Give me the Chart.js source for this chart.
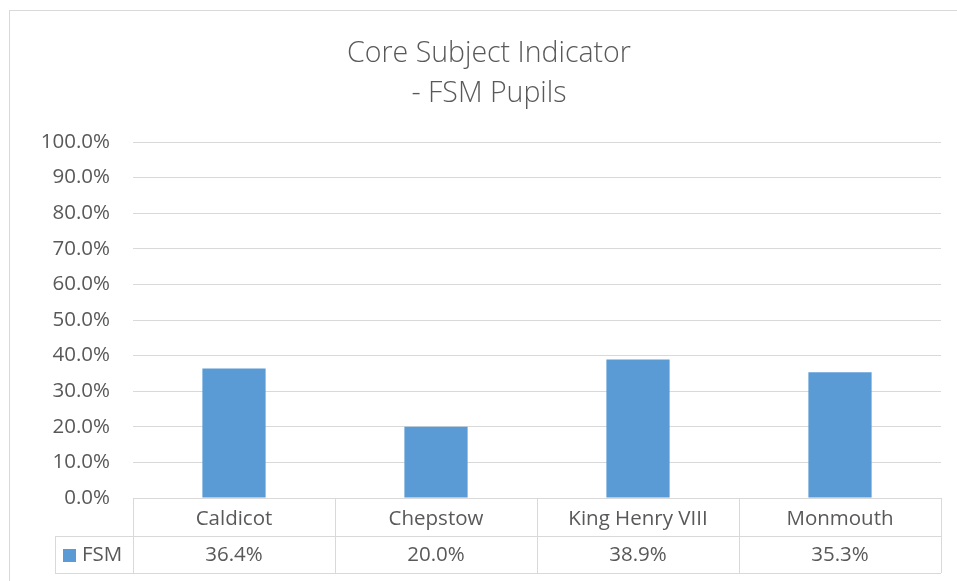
<!DOCTYPE html>
<html>
<head>
<meta charset="utf-8">
<script src="https://cdn.jsdelivr.net/npm/chart.js@4"></script>
<style>
  html, body { margin: 0; padding: 0; background: #ffffff; }
  #wrap { width: 957px; height: 581px; position: relative; }
</style>
</head>
<body>
<div id="wrap"><canvas id="chart"></canvas></div>
<script>
const titleLines = ["Core Subject Indicator", "- FSM Pupils"];
const schools = ["Caldicot", "Chepstow", "King Henry VIII", "Monmouth"];
const seriesName = "FSM";
const fsmValues = [36.4, 20.0, 38.9, 35.3];
const yTickMax = 100;
const yTickStep = 10;

const textColor = "#595959";
const lineColor = "#D9D9D9";
const barColor = "#5B9BD5";
const fontFamily = "'Open Sans', 'Liberation Sans', sans-serif";

// draws the frame and the Excel-style data table under the x axis
const dataTable = {
  id: "dataTable",
  afterDraw(chart)
  {
    const ctx = chart.ctx;
    const x = chart.scales.x;
    const area = chart.chartArea;
    const top = area.bottom;
    const mid = top + 38;
    const bottom = top + 75;
    const legendLeft = 55;

    ctx.save();
    ctx.strokeStyle = lineColor;
    ctx.lineWidth = 1;

    // outer frame
    ctx.strokeRect(9.5, 10.5, 1000, 1000);

    ctx.beginPath();
    ctx.moveTo(area.left, top + 0.5);
    ctx.lineTo(area.right, top + 0.5);
    ctx.moveTo(legendLeft, mid + 0.5);
    ctx.lineTo(area.right, mid + 0.5);
    ctx.moveTo(legendLeft, bottom + 0.5);
    ctx.lineTo(area.right, bottom + 0.5);
    ctx.moveTo(legendLeft + 0.5, mid);
    ctx.lineTo(legendLeft + 0.5, bottom);

    const edges = [area.left];
    for (let i = 0; i < schools.length - 1; i++)
      edges.push((x.getPixelForValue(i) + x.getPixelForValue(i + 1)) / 2);
    edges.push(area.right);
    for (const e of edges)
    {
      const px = Math.round(e) + 0.5;
      ctx.moveTo(px, top);
      ctx.lineTo(px, bottom);
    }
    ctx.stroke();

    // legend key in the row header
    const rowY = (mid + bottom) / 2 + 1;
    ctx.fillStyle = barColor;
    ctx.fillRect(63, Math.round(rowY) - 7, 13, 13);
    ctx.fillStyle = textColor;
    ctx.font = "20.5px " + fontFamily;
    ctx.textBaseline = "middle";
    ctx.textAlign = "left";
    ctx.fillText(seriesName, 82, rowY);

    // values row
    ctx.textAlign = "center";
    const values = chart.data.datasets[0].data;
    values.forEach((v, i) =>
    {
      ctx.fillText(v.toFixed(1) + "%", x.getPixelForValue(i), rowY);
    });
    ctx.restore();
  }
};

const chart = new Chart(document.getElementById("chart"), {
  type: "bar",
  data: {
    labels: schools,
    datasets: [{
      label: seriesName,
      data: fsmValues,
      backgroundColor: barColor,
      borderWidth: 0,
      categoryPercentage: 1,
      barPercentage: 0.313,
    }],
  },
  options: {
    responsive: true,
    maintainAspectRatio: false,
    animation: false,
    devicePixelRatio: 1,
    layout: {
      padding: { left: 37, right: 16, top: 0, bottom: 8 },
    },
    plugins: {
      legend: { display: false },
      tooltip: { enabled: false },
      title: {
        display: true,
        text: titleLines,
        color: textColor,
        font: { family: fontFamily, size: 28.5, weight: 300, lineHeight: 40 / 28.5 },
        padding: { top: 34, bottom: 28 },
      },
    },
    scales: {
      x: {
        grid: { display: false },
        border: { display: false },
        ticks: {
          color: textColor,
          font: { family: fontFamily, size: 20.5 },
          padding: 1,
          maxRotation: 0,
        },
        afterFit(scale)
        {
          scale.height = 75;
        },
      },
      y: {
        min: 0,
        max: yTickMax,
        grid: { color: lineColor, lineWidth: 1, drawTicks: false },
        border: { display: false },
        ticks: {
          stepSize: yTickStep,
          color: textColor,
          font: { family: fontFamily, size: 20.5 },
          padding: 23,
          callback: (v) => v.toFixed(1) + "%",
        },
        afterFit(scale)
        {
          scale.width = 96;
        },
      },
    },
  },
  plugins: [dataTable],
});
</script>
</body>
</html>
